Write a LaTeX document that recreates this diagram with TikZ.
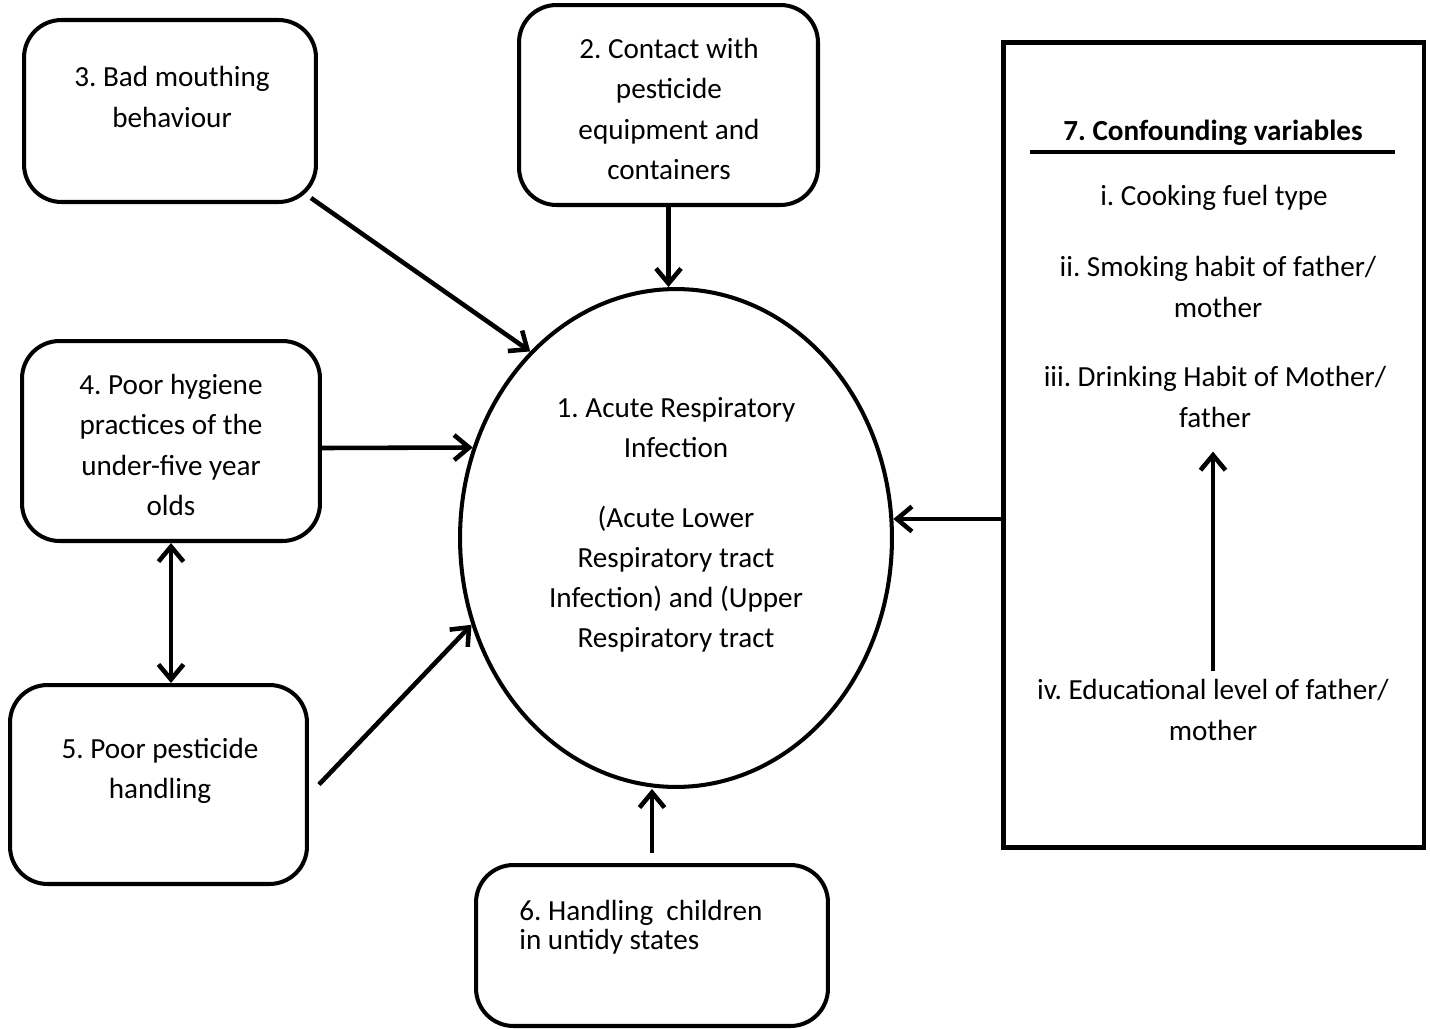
\documentclass[tikz,border=0pt]{standalone}
\usepackage{fontspec}
\setmainfont{Carlito}
\usetikzlibrary{arrows.meta,shapes.geometric,calc}
\frenchspacing

\begin{document}
\begin{tikzpicture}[
  x = 0.02cm, y = -0.02cm,
  >={Straight Barb[length=0.3cm, width=0.5cm]},
  box/.style = {draw, line width=2.3pt, rounded corners=0.75cm, inner sep=0pt},
  txt/.style = {align=center, inner sep=0pt, font=\fontsize{16.6}{22.8}\selectfont},
  link/.style = {line width=2.6pt},
]
\useasboundingbox (0,0) rectangle (1430,1028);

% factors round the outcome
\node[box, minimum width=5.84cm, minimum height=3.64cm] (mouth) at (170,111) {};
\node[txt] at (172,97) {3. Bad mouthing\\behaviour};

\node[box, minimum width=5.98cm, minimum height=4cm] (contact) at (668.5,105) {};
\node[txt] at (669,109) {2. Contact with\\pesticide\\equipment and\\containers};

\node[box, minimum width=5.96cm, minimum height=4cm] (hygiene) at (171,441) {};
\node[txt] at (171,445) {4. Poor hygiene\\practices of the\\under-five year\\olds};

\node[box, minimum width=5.94cm, minimum height=3.98cm] (handling) at (158.5,784.5) {};
\node[txt] at (160,771) {5. Poor pesticide\\handling};

\node[box, minimum width=7.04cm, minimum height=3.22cm] (untidy) at (652,945.5) {};
\node[txt, align=left, anchor=west, font=\fontsize{16.6}{16.4}\selectfont]
  at (519,927.5) {6. Handling~ children\\in untidy states};

% outcome
\node[draw, ellipse, line width=2.3pt, inner sep=0pt,
  minimum width=8.64cm, minimum height=9.96cm] (ari) at (676,538) {};
\node[txt] at (676,524.5) {1. Acute Respiratory\\Infection\\[0.6cm]
  (Acute Lower\\Respiratory tract\\Infection) and (Upper\\Respiratory tract};

% confounders
\node[draw, line width=2.8pt, inner sep=0pt,
  minimum width=8.42cm, minimum height=16.12cm] (conf) at (1213.5,445) {};
\node[txt, font=\fontsize{16.6}{22.8}\selectfont\bfseries] (title) at (1213,133)
  {7. Confounding variables};
\draw[link] (1030,152) -- (1395,152);
\node[txt] (fuel) at (1214,198) {i. Cooking fuel type};
\node[txt] (smoke) at (1218,287) {ii. Smoking habit of father/\\mother};
\node[txt] (drink) at (1215,397) {iii. Drinking Habit of Mother/\\father};
\node[txt] (educ) at (1213,710) {iv. Educational level of father/\\mother};

% connectors
\draw[link,->] ($(mouth.south east)+(-7,-6)$) -- (ari.128);
\draw[link,->] (contact.south) -- (contact.south |- ari.north);
\draw[link,->] ($(hygiene.east)+(0,7)$) -- (ari.156);
\draw[link,->] ($(handling.east)+(10,0)$) -- (ari.203);
\draw[link,->, shorten <=0.2cm] (untidy.north) -- (untidy.north |- ari.south);
\draw[link,->] (conf.west |- ari.5) -- (ari.5);
\draw[link,<->] (hygiene.south) -- (hygiene.south |- handling.north);
\draw[link,->, shorten <=0.16cm, shorten >=0.48cm] (educ.north) -- (educ.north |- drink.south);
\end{tikzpicture}
\end{document}
